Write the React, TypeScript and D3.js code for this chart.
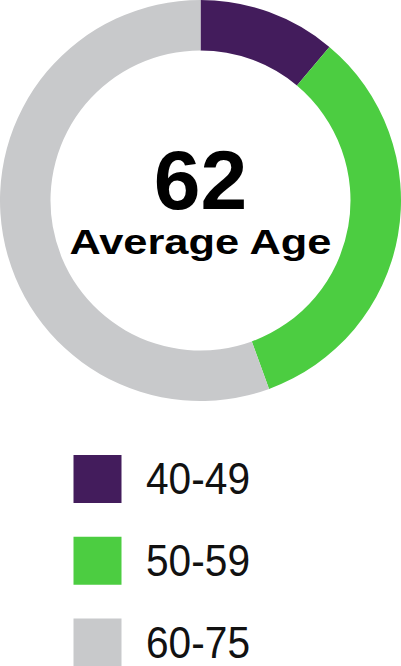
import { useEffect, useRef } from "react";
import * as d3 from "d3";

const ageGroups = ["40-49", "50-59", "60-75"];
const groupShares = [10, 30, 50];
const groupColors = ["#431c5c", "#4ccd41", "#c8c9cb"];
const averageAge = "62";
const centerLabel = "Average Age";

export default function App() {
  const svgRef = useRef<SVGSVGElement>(null);

  useEffect(() => {
    if (!svgRef.current) return;
    const svg = d3.select(svgRef.current);
    svg.selectAll("*").remove();

    const cx = 200.5;
    const cy = 200.5;
    const outer = 200.5;
    const inner = 150;

    const pie = d3
      .pie<number>()
      .sort(null)
      .value((d) => d);
    const arc = d3
      .arc<d3.PieArcDatum<number>>()
      .innerRadius(inner)
      .outerRadius(outer);

    const g = svg.append("g").attr("transform", `translate(${cx},${cy})`);

    g.selectAll("path")
      .data(pie(groupShares))
      .enter()
      .append("path")
      .attr("d", arc)
      .attr("fill", (_, i) => groupColors[i]);

    // Center labels
    g.append("text")
      .attr("x", 0)
      .attr("y", 8)
      .attr("text-anchor", "middle")
      .style("font-family", "'Liberation Sans', Arial, sans-serif")
      .style("font-weight", "bold")
      .style("font-size", "84px")
      .attr("fill", "#000")
      .text(averageAge);

    g.append("text")
      .attr("x", 0)
      .attr("y", 53)
      .attr("text-anchor", "middle")
      .attr("textLength", 262)
      .attr("lengthAdjust", "spacingAndGlyphs")
      .style("font-family", "'Liberation Sans', Arial, sans-serif")
      .style("font-weight", "bold")
      .style("font-size", "35.5px")
      .attr("fill", "#000")
      .text(centerLabel);

    // Legend
    const legendY = d3
      .scalePoint<string>()
      .domain(ageGroups)
      .range([455, 618.5]);

    const rows = svg
      .append("g")
      .selectAll("g")
      .data(ageGroups)
      .enter()
      .append("g")
      .attr("transform", (d) => `translate(73.5,${legendY(d)})`);

    rows
      .append("rect")
      .attr("width", 48)
      .attr("height", 48)
      .attr("fill", (_, i) => groupColors[i]);

    rows
      .append("text")
      .attr("x", 72.5)
      .attr("y", 39)
      .attr("textLength", 104)
      .attr("lengthAdjust", "spacingAndGlyphs")
      .style("font-family", "'Liberation Sans', Arial, sans-serif")
      .style("font-size", "44px")
      .attr("fill", "#111")
      .text((d) => d);
  }, []);

  return (
    <svg
      ref={svgRef}
      width={401}
      height={666}
      style={{ position: "absolute", left: 0, top: 0, background: "#fff" }}
    />
  );
}
